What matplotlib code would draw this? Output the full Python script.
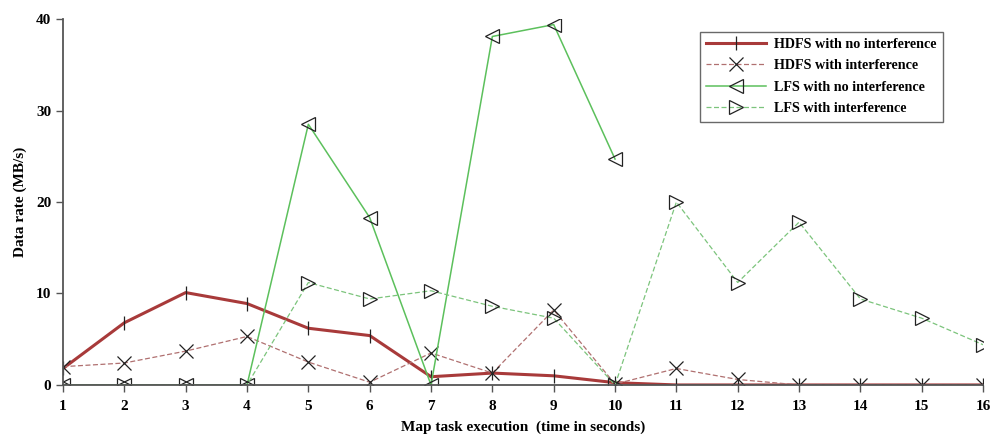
import matplotlib
matplotlib.use('Agg')
import matplotlib.pyplot as plt

t = list(range(1, 17))
hdfs_no_int = [1.8, 6.8, 10.1, 8.9, 6.2, 5.4, 0.9, 1.3, 1.0, 0.25, 0, 0, 0, 0, 0, 0]
hdfs_int = [2.0, 2.4, 3.7, 5.3, 2.5, 0.3, 3.5, 1.3, 8.2, 0.1, 1.8, 0.6, 0, 0, 0, 0]
lfs_no_int = [0, 0, 0, 0, 28.5, 18.3, 0, 38.1, 39.4, 24.7]
lfs_int = [0, 0, 0, 0, 11.2, 9.4, 10.3, 8.6, 7.3, 0, 20.0, 11.2, 17.8, 9.4, 7.3, 4.4]

plt.rcParams['font.family'] = ['Liberation Serif', 'DejaVu Serif']
plt.rcParams['font.weight'] = 'bold'

fig = plt.figure(figsize=(9.92, 4.34), dpi=100)
ax = fig.add_axes([0.0635, 0.113, 0.9275, 0.843])

mk = dict(markeredgecolor='#222222', markerfacecolor='none', markersize=10, markeredgewidth=0.9)
ax.plot(t, hdfs_no_int, color='#a83a3a', lw=2.2, marker='|', label='HDFS with no interference', **mk)
ax.plot(t, hdfs_int, color='#b07070', lw=0.9, ls='--', dashes=(4, 2), marker='x', label='HDFS with interference', **mk)
ax.plot(t[:len(lfs_no_int)], lfs_no_int, color='#5cc05c', lw=1.1, marker='<', label='LFS with no interference', **mk)
ax.plot(t, lfs_int, color='#7cc47c', lw=0.9, ls='--', dashes=(4, 2), marker='>', label='LFS with interference', **mk)

ax.set_xlim(1, 16)
ax.set_ylim(0, 40)
ax.set_xticks(t)
ax.set_yticks([0, 10, 20, 30, 40])
ax.spines['top'].set_visible(False)
ax.spines['right'].set_visible(False)
for s in ['left', 'bottom']:
    ax.spines[s].set_color('#555555')
    ax.spines[s].set_linewidth(1.3)
ax.tick_params(axis='both', direction='out', length=5, width=1, color='#555555', labelsize=11)
ax.tick_params(axis='x', pad=6)
ax.set_xlabel('Map task execution  (time in seconds)', fontsize=11, fontweight='bold', labelpad=5)
ax.set_ylabel('Data rate (MB/s)', fontsize=11, fontweight='bold', labelpad=6)

leg = ax.legend(loc='upper left', bbox_to_anchor=(0.692, 0.966), borderaxespad=0, fontsize=10.2,
                frameon=True, fancybox=False, edgecolor='#444444', handlelength=4.2, borderpad=0.45,
                labelspacing=0.6, handletextpad=0.6)
leg.get_frame().set_linewidth(1.0)

fig.savefig('out.png', dpi=100)
